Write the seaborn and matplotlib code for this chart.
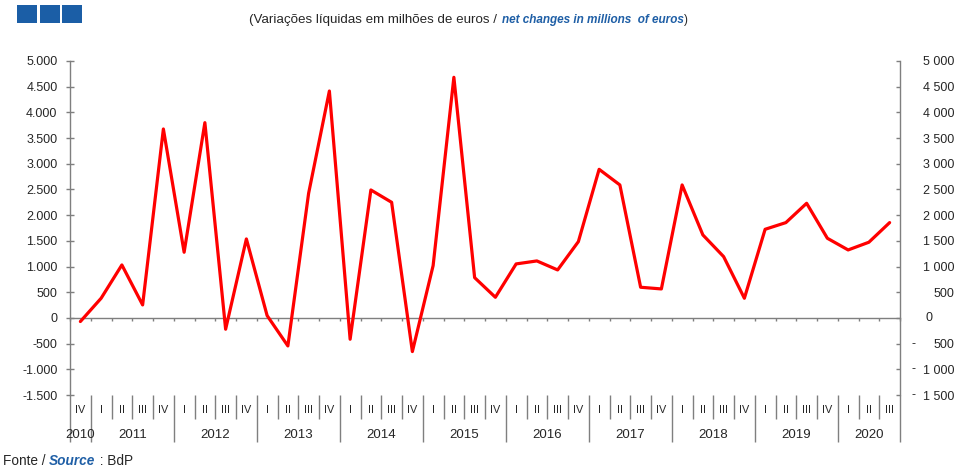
import numpy as np
import pandas as pd
import matplotlib
matplotlib.use("Agg")
import matplotlib.pyplot as plt
import matplotlib.transforms as mtransforms
from matplotlib.patches import Rectangle
import seaborn as sns

# Quarterly data, 2010 IV to 2020 III (millions of euros)
years = ["2010", "2011", "2012", "2013", "2014", "2015",
         "2016", "2017", "2018", "2019", "2020"]
quarters = ["IV",
            "I", "II", "III", "IV", "I", "II", "III", "IV",
            "I", "II", "III", "IV", "I", "II", "III", "IV",
            "I", "II", "III", "IV", "I", "II", "III", "IV",
            "I", "II", "III", "IV", "I", "II", "III", "IV",
            "I", "II", "III", "IV", "I", "II", "III"]
values = [-70, 383, 1031, 253, 3677, 1278, 3800, -220, 1537, 45,
          -545, 2426, 4416, -415, 2490, 2250, -655, 1018, 4683, 784,
          402, 1051, 1109, 934, 1485, 2892, 2588, 597, 564, 2588,
          1615, 1193, 383, 1725, 1855, 2231, 1550, 1323, 1473, 1855]
y_ticks = [-1500, -1000, -500, 0, 500, 1000, 1500, 2000, 2500,
           3000, 3500, 4000, 4500, 5000]

GRAY = "#7f7f7f"
TEXT = "#262626"
BLUE = "#1f5fa6"
FS = 9

sns.set_style("white")
plt.rcParams["font.family"] = ["Liberation Sans", "DejaVu Sans"]

fig = plt.figure(figsize=(9.65, 4.7), dpi=100)
ax = fig.add_axes([70 / 965, 75 / 470, 830 / 965, 334 / 470])

# year index of each point (a new year starts at every quarter "I")
year_idx = np.cumsum([q == "I" for q in quarters])
df = pd.DataFrame({"pos": np.arange(len(values)), "valor": values,
                   "ano": [years[k] for k in year_idx]})

sns.lineplot(data=df, x="pos", y="valor", ax=ax, color="#ff0000",
             linewidth=2.3)
ax.set_xlim(-0.5, len(values) - 0.5)
ax.set_ylim(y_ticks[0], y_ticks[-1])
ax.set_xlabel("")
ax.set_ylabel("")

for side in ["top", "bottom", "right"]:
    ax.spines[side].set_visible(False)
ax.spines["left"].set_color(GRAY)
ax.spines["left"].set_linewidth(1.0)

# left axis: 5.000 style
ax.set_yticks(y_ticks)
ax.set_yticklabels([f"{v:,}".replace(",", ".") for v in y_ticks])
ax.tick_params(axis="y", left=True, direction="inout", length=6, width=1.0,
               color=GRAY, pad=6, labelsize=FS, labelcolor=TEXT)

# category separators below the plot
starts = [i for i, q in enumerate(quarters) if q == "I"]
major = [-0.5] + [i - 0.5 for i in starts] + [len(values) - 0.5]
minor = [i + 0.5 for i in range(len(values) - 1) if (i + 1) not in starts]
ax.set_xticks(major)
ax.set_xticks(minor, minor=True)
ax.tick_params(axis="x", which="major", bottom=True, direction="out",
               length=34, width=1.0, color=GRAY, labelbottom=False)
ax.tick_params(axis="x", which="minor", bottom=True, direction="out",
               length=17, width=1.0, color=GRAY, labelbottom=False)

# zero line with small ticks
zero_frac = (0 - y_ticks[0]) / (y_ticks[-1] - y_ticks[0])
sec = ax.secondary_xaxis(zero_frac)
sec.set_xticks(major + minor)
sec.tick_params(axis="x", bottom=True, direction="out", length=2.5,
                width=1.0, color=GRAY, labelbottom=False, labeltop=False)
for s in sec.spines.values():
    s.set_color(GRAY)
    s.set_linewidth(1.0)

# right axis: 5 000 style
ax2 = ax.twinx()
ax2.set_ylim(ax.get_ylim())
for side in ["top", "bottom", "left"]:
    ax2.spines[side].set_visible(False)
ax2.spines["right"].set_color(GRAY)
ax2.spines["right"].set_linewidth(1.0)
ax2.set_yticks(y_ticks)
ax2.set_yticklabels(["" if v == 0 else f"{abs(v):,}".replace(",", " ")
                     for v in y_ticks])
ax2.tick_params(axis="y", right=True, direction="in", length=3, width=1.0,
                color=GRAY, pad=39, labelsize=FS, labelcolor=TEXT)
for lab in ax2.get_yticklabels():
    lab.set_horizontalalignment("right")
for v in y_ticks:
    if v < 0:
        ax2.annotate("-", xy=(1, v), xycoords=("axes fraction", "data"),
                     xytext=(8, 0), textcoords="offset points",
                     ha="left", va="center", fontsize=FS, color=TEXT)
    elif v == 0:
        ax2.annotate("0", xy=(1, v), xycoords=("axes fraction", "data"),
                     xytext=(18, 0), textcoords="offset points",
                     ha="left", va="center", fontsize=FS, color=TEXT)

# quarter and year labels
trans = mtransforms.blended_transform_factory(ax.transData, ax.transAxes)
for i, q in enumerate(quarters):
    ax.text(i, -0.045, q, transform=trans, ha="center", va="center",
            fontsize=7.8, color=TEXT)
for y, grp in df.groupby("ano"):
    ax.text(grp["pos"].mean(), -0.12, y, transform=trans, ha="center",
            va="center", fontsize=9.5, color=TEXT)

# header squares
for x0 in [17, 39.5, 62]:
    fig.patches.append(Rectangle((x0 / 965, 1 - 23 / 470), 20 / 965,
                                 18 / 470, transform=fig.transFigure,
                                 facecolor="#1b5ea6", edgecolor="none"))

# subtitle
t1 = fig.text(497 / 965, 1 - 20 / 470,
              "(Variações líquidas em milhões de euros /",
              ha="right", va="center", fontsize=9.6, color=TEXT)
t2 = fig.text(502 / 965, 1 - 20 / 470,
              "net changes in millions  of euros", ha="left", va="center",
              fontsize=8.5, color=BLUE, fontweight="bold", fontstyle="italic")
ax.annotate(")", xy=(1, 0), xycoords=t2, ha="left", va="bottom",
            fontsize=8.5, color=TEXT, annotation_clip=False)

# source
f1 = fig.text(3 / 965, 1 - 461 / 470, "Fonte / ", ha="left", va="center",
              fontsize=9.8, color=TEXT)
f2 = ax.annotate("Source", xy=(1, 0), xycoords=f1, ha="left", va="bottom",
                 fontsize=9.8, color=BLUE, fontweight="bold",
                 fontstyle="italic", annotation_clip=False)
ax.annotate(" : BdP", xy=(1, 0), xycoords=f2, ha="left", va="bottom",
            fontsize=9.8, color=TEXT, annotation_clip=False)

fig.savefig("out.png", dpi=100, facecolor="white")
